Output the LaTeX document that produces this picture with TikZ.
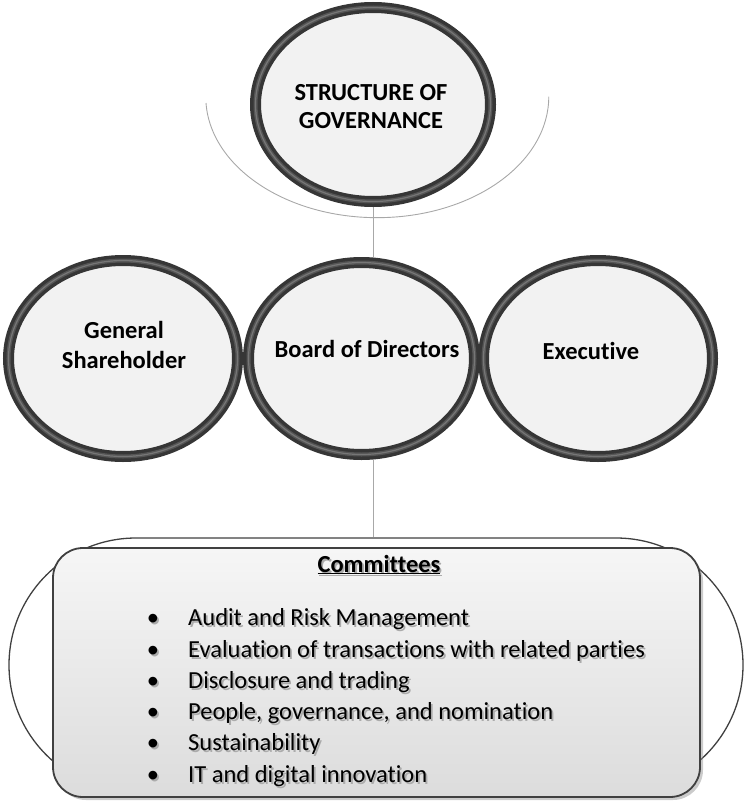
\documentclass[tikz,border=0pt]{standalone}
\usepackage{fontspec}
\setmainfont{Carlito}[Ligatures={NoCommon,NoRare,NoContextual}]
\usetikzlibrary{shapes.geometric,backgrounds,shadows,calc}

\definecolor{ringdark}{HTML}{363636}
\definecolor{ringmid}{HTML}{555555}
\definecolor{ringlight}{HTML}{767676}
\definecolor{circfill}{HTML}{F2F2F2}
\definecolor{linegray}{HTML}{A8A8A8}
\definecolor{boxedge}{HTML}{404040}
\definecolor{boxtop}{HTML}{F6F6F6}
\definecolor{boxbot}{HTML}{DCDCDC}
\definecolor{txtshadow}{HTML}{ABABAB}

% text with a soft grey shadow below and to the right
\newcommand\shd[1]{\makebox[0pt][l]{\kern1.8pt\raisebox{-2pt}{\textcolor{txtshadow}{#1}}}#1}

\begin{document}
\begin{tikzpicture}[x=1pt,y=-1pt,
  ring/.style={ellipse, inner sep=0pt, draw=ringdark, line width=11pt, fill=circfill,
    postaction={draw=ringmid, line width=4pt},
    postaction={draw=ringlight, line width=1.2pt}},
  lbl/.style={font=\bfseries\fontsize{24.5}{30}\selectfont, anchor=base, inner sep=0pt},
  item/.style={font=\fontsize{24.5}{30}\selectfont, anchor=base west, inner sep=0pt},
  dot/.style={font=\fontsize{24.5}{30}\selectfont, anchor=base, inner sep=0pt},
  conn/.style={draw=linegray, line width=0.9pt}]
\useasboundingbox (0,0) rectangle (744,803);

% curved line under the top circle
\coordinate (arcstart) at (206,103);
\draw[conn] (arcstart) arc[start angle=177, end angle=0, x radius=171.5, y radius=121];

% circles
\node[ring, minimum width=235pt, minimum height=194pt] (top) at (373,104.5) {};
\node[ring, minimum width=229pt, minimum height=196pt] (gen) at (123,358.5) {};
\node[ring, minimum width=226pt, minimum height=192pt] (board) at (361.5,358.5) {};
\node[ring, minimum width=229pt, minimum height=196pt] (exec) at (598,358.5) {};

% committees panel
\node[draw=boxedge, line width=1.3pt, fill=white, rectangle, rounded corners=127pt,
      minimum width=734pt, minimum height=254pt, inner sep=0pt] (outer) at (376,665) {};
\node[draw=boxedge, line width=1.8pt, rectangle, rounded corners=30pt,
      top color=boxtop, bottom color=boxbot,
      general shadow={fill=black!45, shadow xshift=3pt, shadow yshift=-3pt, opacity=0.45},
      minimum width=647pt, minimum height=249pt, inner sep=0pt] (inner) at (376.5,672.5) {};

% connectors
\begin{pgfonlayer}{background}
\draw[conn] (top.south) -- (top.south |- board.north);
\coordinate (c1) at (board.south -| top.south);
\draw[conn] (c1) -- (c1 |- outer.north);
\end{pgfonlayer}

% circle labels
\node[lbl] (t1) at (371,100) {STRUCTURE OF};
\node[lbl] (t2) at (371,128) {GOVERNANCE};
\node[lbl] (g1) at (124,338) {General};
\node[lbl] (g2) at (124,368) {Shareholder};
\node[lbl] (b1) at (367,357) {Board of Directors};
\node[lbl] (e1) at (591,359) {Executive};

% committees list
\node[lbl] (ch) at (379,572) {\shd{\underline{Committees}}};
\foreach \y/\t [count=\i] in {625/Audit and Risk Management,
    657/Evaluation of transactions with related parties,
    688/Disclosure and trading,
    719/{People, governance, and nomination},
    750/Sustainability,
    782/IT and digital innovation}{
  \node[dot] (d\i) at (153,\y) {\shd{•}};
  \node[item] (i\i) at (188,\y) {\shd{\t}};
}
\end{tikzpicture}
\end{document}
